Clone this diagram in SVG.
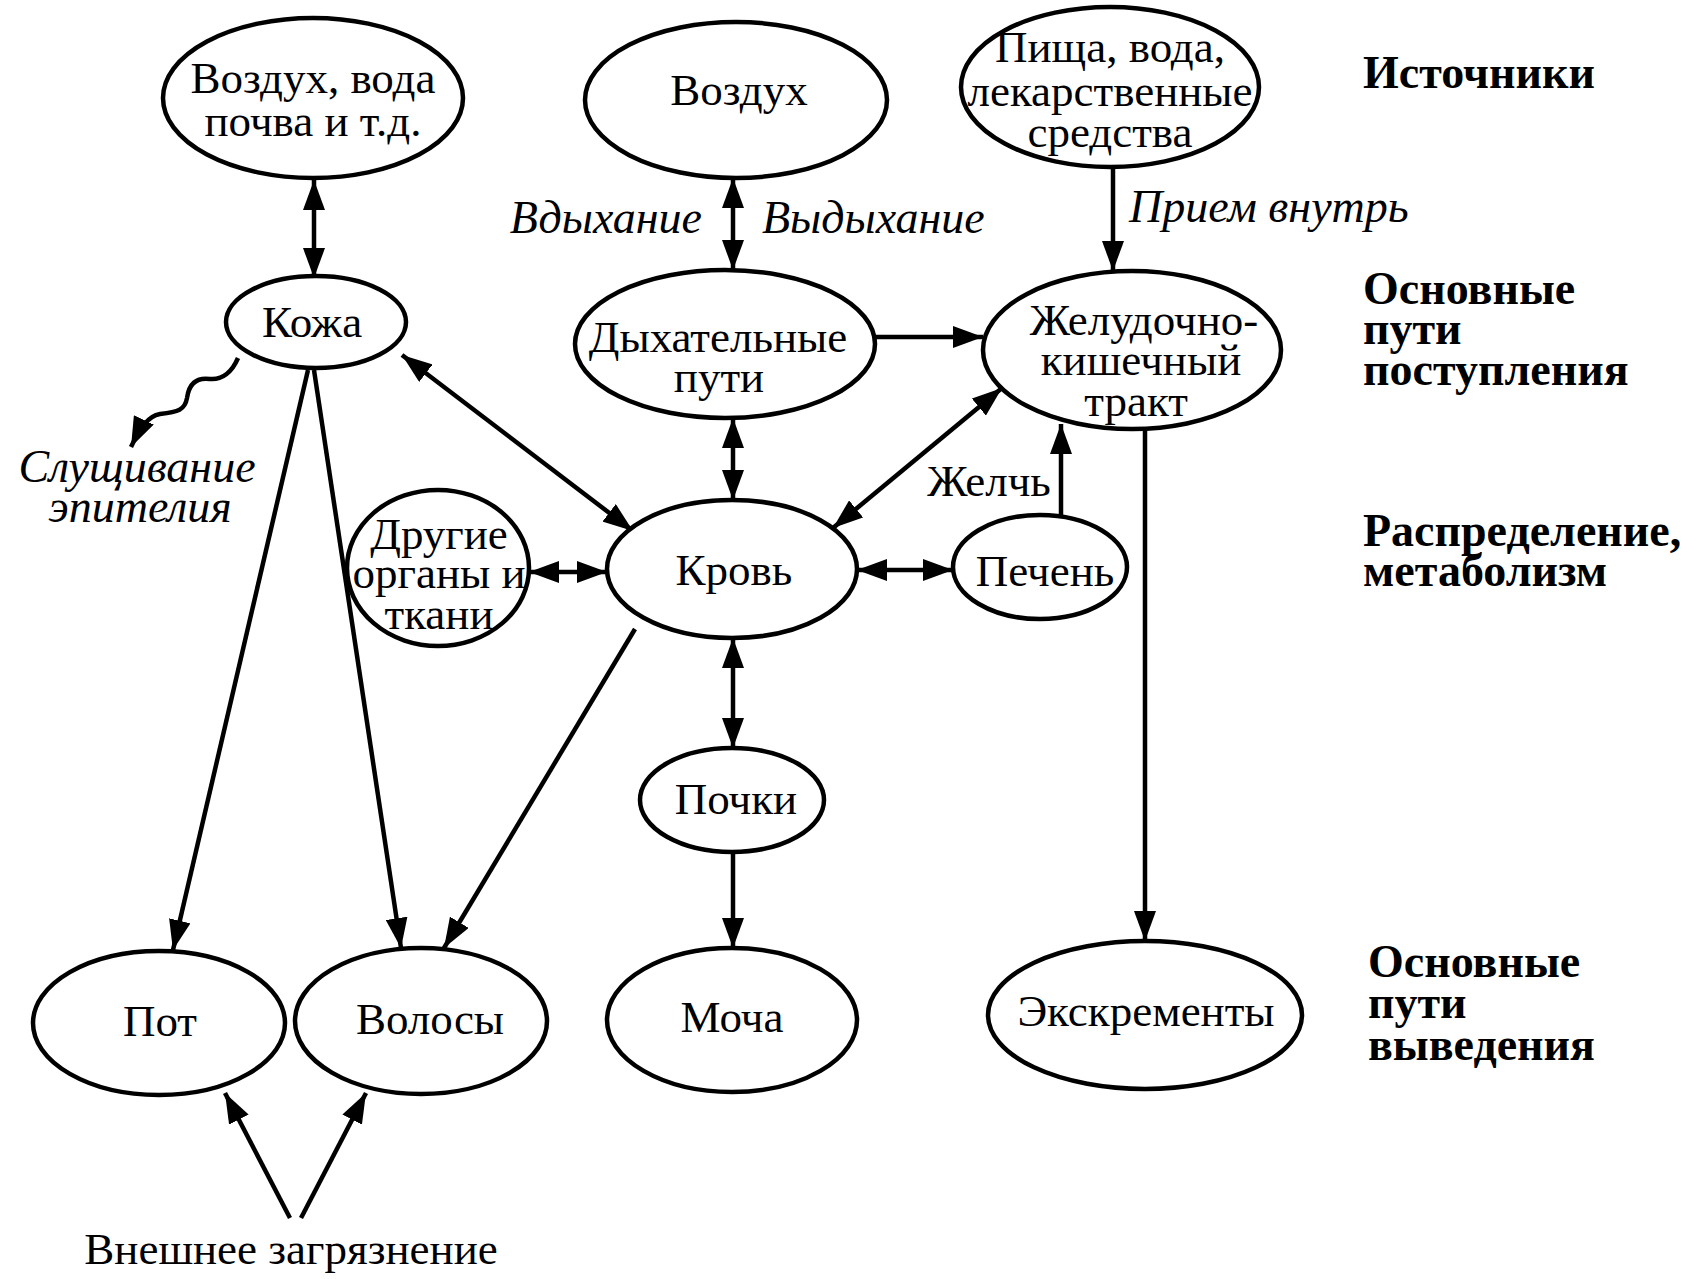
<svg xmlns="http://www.w3.org/2000/svg" width="1700" height="1279" viewBox="0 0 1700 1279">
<defs>
<marker id="ah" viewBox="0 0 30 22" refX="30" refY="11" markerWidth="30" markerHeight="22" markerUnits="userSpaceOnUse" orient="auto-start-reverse">
<path d="M0,0 L30,11 L0,22 z" fill="#000"/>
</marker>
<style>
.n{fill:#fff;stroke:#000;stroke-width:4.5}
.t{font-family:"Liberation Serif","Times New Roman",serif;font-size:45px;text-anchor:middle;fill:#000}
.i{font-family:"Liberation Serif","Times New Roman",serif;font-size:46px;font-style:italic;fill:#000}
.b{font-family:"Liberation Serif","Times New Roman",serif;font-size:46px;font-weight:bold;fill:#000}
.c{fill:none;stroke:#000;stroke-width:4.5}
.one{marker-end:url(#ah)}
.two{marker-start:url(#ah);marker-end:url(#ah)}
</style>
</defs>
<rect width="1700" height="1279" fill="#fff"/>
<g id="connectors">
<line class="c two" x1="314" y1="180" x2="314" y2="278"/>
<line class="c two" x1="733" y1="178" x2="733" y2="270"/>
<line class="c one" x1="1113" y1="167" x2="1113" y2="271"/>
<line class="c one" x1="875" y1="337" x2="983" y2="337"/>
<line class="c two" x1="733" y1="418" x2="733" y2="500"/>
<line class="c two" x1="402" y1="355" x2="633" y2="531"/>
<line class="c two" x1="1002" y1="388" x2="833" y2="528"/>
<line class="c one" x1="1061" y1="515" x2="1061" y2="424"/>
<line class="c two" x1="529" y1="572" x2="607" y2="572"/>
<line class="c two" x1="857" y1="570" x2="953" y2="570"/>
<line class="c two" x1="733" y1="638" x2="733" y2="748"/>
<line class="c one" x1="733" y1="852" x2="733" y2="948"/>
<line class="c one" x1="1145" y1="429" x2="1145" y2="941"/>
<line class="c one" x1="308" y1="370" x2="173" y2="950"/>
<line class="c one" x1="314" y1="370" x2="401" y2="948"/>
<line class="c one" x1="635" y1="629" x2="444" y2="948"/>
<line class="c one" x1="290" y1="1218" x2="225" y2="1093"/>
<line class="c one" x1="301" y1="1218" x2="366" y2="1093"/>
<path class="c one" d="M238,358 C232,372 222,380 210,379 C196,377 189,384 187,398 C185,410 178,412 160,414 C148,416 140,428 131,447"/>
</g>
<g id="n-air-water"><ellipse class="n" cx="313" cy="98" rx="150" ry="80"/><text class="t" x="313" y="93">Воздух, вода</text><text class="t" x="313" y="136">почва и т.д.</text></g>
<g id="n-air"><ellipse class="n" cx="736" cy="100" rx="151" ry="78"/><text class="t" x="739" y="105">Воздух</text></g>
<g id="n-food"><ellipse class="n" cx="1110" cy="87" rx="149" ry="80"/><text class="t" x="1110" y="62">Пища, вода,</text><text class="t" x="1110" y="106">лекарственные</text><text class="t" x="1110" y="147">средства</text></g>
<g id="n-skin"><ellipse class="n" cx="316" cy="322" rx="90" ry="46"/><text class="t" x="312" y="337">Кожа</text></g>
<g id="n-resp"><ellipse class="n" cx="725" cy="344" rx="150" ry="74"/><text class="t" x="718" y="352">Дыхательные</text><text class="t" x="719" y="392">пути</text></g>
<g id="n-git"><ellipse class="n" cx="1132" cy="350" rx="149" ry="79"/><text class="t" x="1144" y="335">Желудочно-</text><text class="t" x="1141" y="375">кишечный</text><text class="t" x="1136" y="416">тракт</text></g>
<g id="n-blood"><ellipse class="n" cx="732" cy="569" rx="125" ry="69"/><text class="t" x="734" y="585">Кровь</text></g>
<g id="n-other"><ellipse class="n" cx="438" cy="568" rx="91" ry="78"/><text class="t" x="439" y="549">Другие</text><text class="t" x="439" y="588">органы и</text><text class="t" x="439" y="629">ткани</text></g>
<g id="n-liver"><ellipse class="n" cx="1040" cy="567" rx="87" ry="52"/><text class="t" x="1045" y="586">Печень</text></g>
<g id="n-kidney"><ellipse class="n" cx="732" cy="800" rx="92" ry="52"/><text class="t" x="736" y="814">Почки</text></g>
<g id="n-sweat"><ellipse class="n" cx="159" cy="1023" rx="126" ry="72"/><text class="t" x="160" y="1036">Пот</text></g>
<g id="n-hair"><ellipse class="n" cx="421" cy="1021" rx="126" ry="73"/><text class="t" x="430" y="1034">Волосы</text></g>
<g id="n-urine"><ellipse class="n" cx="732" cy="1020" rx="125" ry="72"/><text class="t" x="732" y="1032">Моча</text></g>
<g id="n-feces"><ellipse class="n" cx="1145" cy="1015" rx="157" ry="74"/><text class="t" x="1146" y="1026">Экскременты</text></g>
<g id="labels">
<text class="i" x="702" y="233" text-anchor="end">Вдыхание</text>
<text class="i" x="762" y="233">Выдыхание</text>
<text class="i" x="1129" y="222">Прием внутрь</text>
<text class="i" x="137" y="482" text-anchor="middle">Слущивание</text>
<text class="i" x="140" y="522" text-anchor="middle">эпителия</text>
<text class="t" x="989" y="496">Желчь</text>
<text class="t" x="291" y="1264">Внешнее загрязнение</text>
<text class="b" x="1363" y="88">Источники</text>
<text class="b" x="1363" y="304">Основные</text>
<text class="b" x="1363" y="344">пути</text>
<text class="b" x="1363" y="385">поступления</text>
<text class="b" x="1363" y="546">Распределение,</text>
<text class="b" x="1363" y="586">метаболизм</text>
<text class="b" x="1368" y="977">Основные</text>
<text class="b" x="1368" y="1018">пути</text>
<text class="b" x="1368" y="1060">выведения</text>
</g>
</svg>
